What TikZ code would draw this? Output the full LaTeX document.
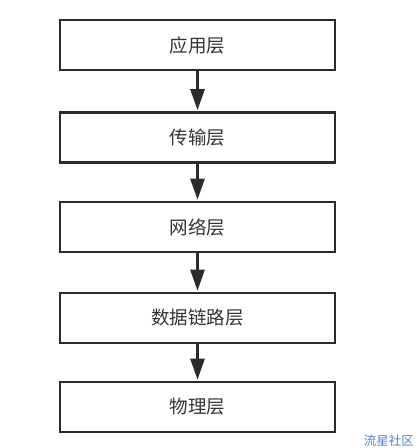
\documentclass[tikz,border=0pt]{standalone}
\usepackage{fontspec}
\newfontfamily\cjk{Noto Sans CJK SC}
\usetikzlibrary{arrows.meta}
\definecolor{lineC}{HTML}{2B2B2B}
\definecolor{textC}{HTML}{333333}
\definecolor{markC}{HTML}{4A86C5}
\begin{document}
\begin{tikzpicture}[x=1bp,y=-1bp,
  layerbox/.style={draw=lineC,line width=2.6bp,minimum width=275bp,minimum height=50bp,inner sep=0pt,fill=white,text=textC,font=\cjk\fontsize{18.5bp}{22bp}\selectfont},
  flowarrow/.style={draw=lineC,line width=2.6bp,-{Triangle[length=21bp,width=14bp]},shorten >=1bp}]
\useasboundingbox[fill=white] (0,0) rectangle (415,448);
\node[layerbox] (app) at (197.5,45) {应用层};
\node[layerbox] (trans) at (197.5,137.5) {传输层};
\node[layerbox] (net) at (197.5,227) {网络层};
\node[layerbox] (link) at (197.5,318) {数据链路层};
\node[layerbox] (phy) at (197.5,407) {物理层};
\draw[flowarrow] (app) -- (trans);
\draw[flowarrow] (trans) -- (net);
\draw[flowarrow] (net) -- (link);
\draw[flowarrow] (link) -- (phy);
\node[text=markC,font=\cjk\fontsize{12.5bp}{13bp}\selectfont,anchor=south east,inner sep=0pt] (mark) at (414,447) {流星社区};
\end{tikzpicture}
\end{document}
